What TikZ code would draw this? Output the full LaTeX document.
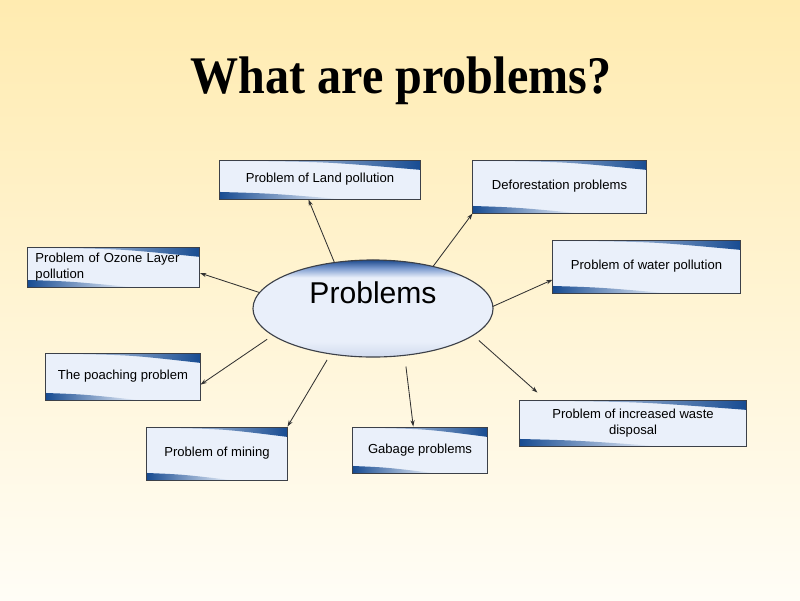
\documentclass[tikz,border=0pt]{standalone}
\usepackage{fontspec}
\setmainfont{Liberation Serif}
\setsansfont{Liberation Sans}
\usepackage{tikz}
\usetikzlibrary{shapes,arrows.meta,positioning,calc}

\definecolor{bgtop}{RGB}{255,235,176}
\definecolor{bgbot}{RGB}{255,253,246}
\definecolor{boxfill}{RGB}{234,240,250}
\definecolor{boxblue}{RGB}{24,76,146}
\definecolor{boxline}{RGB}{60,64,72}
\definecolor{ellfill}{RGB}{233,239,250}
\definecolor{ellbot}{RGB}{208,218,237}
\definecolor{ellmid}{RGB}{120,152,205}
\definecolor{ellblue}{RGB}{30,74,140}
\definecolor{connline}{RGB}{50,50,50}

\pgfdeclareverticalshading{ellshade}{100bp}{color(0bp)=(ellbot); color(25bp)=(ellbot); color(33bp)=(ellfill); color(66bp)=(ellfill); color(71bp)=(ellmid); color(75bp)=(ellblue); color(100bp)=(ellblue)}

\begin{document}
\begin{tikzpicture}[
    x=0.025cm, y=-0.025cm,
    block/.style={rectangle, draw=boxline, line width=0.7pt, fill=boxfill, inner sep=3pt, align=center,
        font=\sffamily\fontsize{9.3}{11.5}\selectfont,
        path picture={
            \coordinate (nw) at (path picture bounding box.north west);
            \coordinate (ne) at (path picture bounding box.north east);
            \coordinate (sw) at (path picture bounding box.south west);
            \coordinate (se) at (path picture bounding box.south east);
            \shade[left color=boxfill, right color=boxblue] (nw) -- (ne) -- ($(ne)+(0,-7pt)$) .. controls ($(nw)!0.55!(ne)+(0,-1.5pt)$) .. ($(nw)!0.2!(ne)+(0,-0.8pt)$) -- ($(nw)+(0,-0.8pt)$) -- cycle;
            \shade[left color=boxblue, right color=boxfill] (sw) -- ($(sw)!0.6!(se)$) .. controls ($(sw)!0.25!(se)+(0,4pt)$) .. ($(sw)+(0,5pt)$) -- cycle;
        }},
    hub/.style={ellipse, draw=boxline, line width=0.8pt, shade, shading=ellshade, minimum width=6cm, minimum height=2.425cm,
        inner sep=0pt, outer sep=0pt, text depth=0.8cm, font=\sffamily\fontsize{21.4}{24}\selectfont},
    title/.style={font=\bfseries\fontsize{37.6}{40}\selectfont, anchor=base, inner sep=0pt},
    conn/.style={draw=connline, line width=0.6pt, -{Stealth[length=4.5pt,width=3pt]}}
]
    \useasboundingbox (0,0) rectangle (800,600);
    \shade [top color=bgtop, bottom color=bgbot] (0,0) rectangle (800,600);

    \node [title] (head) at (401,93) {\scalebox{0.91}[1]{What are problems?}};

    \node [hub] (hub) at (373,308.5) {Problems};

    \node [block, minimum width=5cm, minimum height=0.975cm] (land) at (320,179.5) {Problem of Land pollution};
    \node [block, minimum width=4.325cm, minimum height=1.325cm] (defo) at (559.5,186.5) {Deforestation problems};
    \node [block, text width=3.9cm, inner xsep=0.2cm, align=left, minimum height=1cm] (ozone) at (113.5,267) {Problem of Ozone Layer\\pollution};
    \node [block, minimum width=4.675cm, minimum height=1.325cm] (water) at (646.5,266.5) {Problem of water pollution};
    \node [block, minimum width=3.85cm, minimum height=1.175cm] (poach) at (123,376.5) {The poaching problem};
    \node [block, minimum width=3.5cm, minimum height=1.325cm] (mining) at (217,453.5) {Problem of mining};
    \node [block, minimum width=3.35cm, minimum height=1.15cm] (gabage) at (420,450) {Gabage problems};
    \node [block, minimum width=5.65cm, minimum height=1.15cm] (waste) at (633,423) {Problem of increased waste\\disposal};

    \draw [conn] (hub.130) -- (land.240);
    \draw [conn] (hub.35) -- (defo.south west);
    \draw [conn] (hub.172) -- (ozone.356);
    \draw [conn] (hub.1) -- (water.188);
    \draw [conn, shorten <=5pt] (hub.195) -- (poach.354);
    \draw [conn, shorten <=5pt] (hub.227) -- (mining.north east);
    \draw [conn, shorten <=8pt] (hub.304) -- (gabage.106);
    \draw [conn, shorten <=5.5pt, shorten >=7.5pt] (hub.345) -- (waste.165);
\end{tikzpicture}
\end{document}
